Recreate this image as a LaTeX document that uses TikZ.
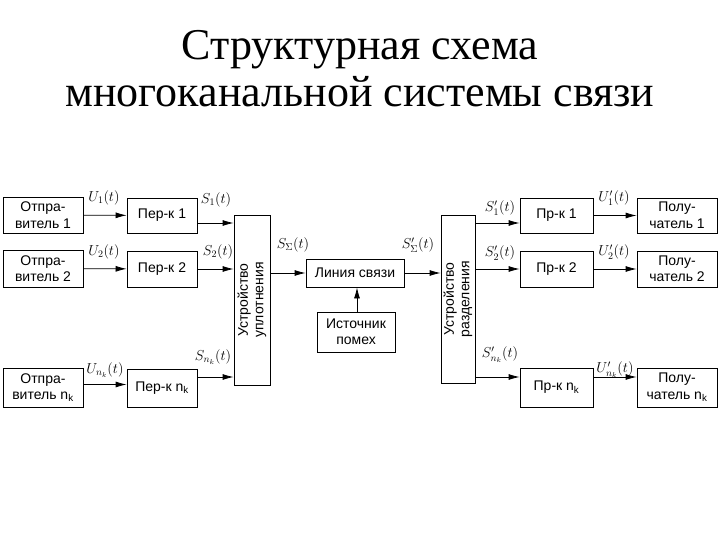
\documentclass[tikz,border=0pt]{standalone}
\usepackage{fontspec}
\setmainfont{Liberation Sans}
\newfontfamily\titlefont{Liberation Serif}
\usetikzlibrary{arrows.meta}
\begin{document}
\begin{tikzpicture}[x=1pt,y=-1pt,
 box/.style={draw, line width=0.8pt, inner sep=0pt, align=center, font=\fontsize{14}{16.5}\selectfont},
 vtext/.style={rotate=90, align=center, inner sep=0pt, font=\fontsize{14}{15.5}\selectfont},
 arr/.style={-{Latex[length=11pt,width=6pt]}, line width=0.8pt},
 lbl/.style={font=\fontsize{14.5}{16}\selectfont, inner sep=0pt},
 ttl/.style={font=\titlefont\fontsize{44}{48}\selectfont, inner sep=0pt, anchor=base}]
\useasboundingbox (0,0) rectangle (720,540);
% title
\node[ttl] (t1) at (360,60) {Структурная схема};
\node[ttl] (t2) at (360,107) {многоканальной системы связи};
% senders
\node[box, minimum width=80pt, minimum height=36pt] (o1) at (43,215) {Отпра-\\витель 1};
\node[box, minimum width=80pt, minimum height=37pt] (o2) at (43,268.5) {Отпра-\\витель 2};
\node[box, minimum width=80pt, minimum height=39pt] (o3) at (43,387.5) {Отпра-\\витель n\textsubscript{k}};
% transmitters
\node[box, minimum width=70pt, minimum height=35pt] (p1) at (162,215.5) {Пер-к 1};
\node[box, minimum width=70pt, minimum height=36pt] (p2) at (162,269) {Пер-к 2};
\node[box, minimum width=70pt, minimum height=38pt] (p3) at (162,388) {Пер-к n\textsubscript{k}};
% multiplexer
\node[box, minimum width=36pt, minimum height=170pt] (u) at (252,300) {};
\node[vtext] (ut) at (u.center) {Устройство\\уплотнения};
% line
\node[box, minimum width=98pt, minimum height=28pt] (ln) at (355,273) {Линия связи};
\node[box, minimum width=78pt, minimum height=40pt] (is) at (356,332) {Источник\\помех};
% demultiplexer
\node[box, minimum width=34pt, minimum height=168pt] (r) at (458,299) {};
\node[vtext] (rt) at (r.center) {Устройство\\разделения};
% receivers
\node[box, minimum width=73pt, minimum height=35pt] (q1) at (556.5,215.5) {Пр-к 1};
\node[box, minimum width=73pt, minimum height=36pt] (q2) at (556.5,269) {Пр-к 2};
\node[box, minimum width=73pt, minimum height=39pt] (q3) at (556.5,387.5) {Пр-к n\textsubscript{k}};
% recipients
\node[box, minimum width=80pt, minimum height=35pt] (g1) at (677,215.5) {Полу-\\чатель 1};
\node[box, minimum width=80pt, minimum height=36pt] (g2) at (677,269) {Полу-\\чатель 2};
\node[box, minimum width=80pt, minimum height=39pt] (g3) at (677,387.5) {Полу-\\чатель n\textsubscript{k}};
% connectors
\draw[arr] (o1) -- (p1);
\draw[arr] (o2) -- (p2);
\draw[arr] ([yshift=3pt]o3.east) -- ([yshift=3pt]o3.east -| p3.west);
\draw[arr] ([yshift=-7.5pt]p1.east) -- ([yshift=-7.5pt]p1.east -| u.west);
\draw[arr] (p2.east) -- (p2.east -| u.west);
\draw[arr] ([yshift=11pt]p3.east) -- ([yshift=11pt]p3.east -| u.west);
\draw[arr] (ln.west -| u.east) -- (ln.west);
\draw[arr] (ln.east) -- (ln.east -| r.west);
\draw[arr] (is.north -| 357,0) -- (ln.south -| 357,0);
\draw[arr] ([yshift=-7.5pt]q1.west -| r.east) -- ([yshift=-7.5pt]q1.west);
\draw[arr] (q2.west -| r.east) -- (q2.west);
\draw[arr] ([yshift=10.5pt]q3.west -| r.east) -- ([yshift=10.5pt]q3.west);
\draw[arr] (q1) -- (g1);
\draw[arr] (q2) -- (g2);
\draw[arr] ([yshift=10.5pt]q3.east) -- ([yshift=10.5pt]q3.east -| g3.west);
% labels
\node[lbl] (lu1) at (104,198) {$U_1(t)$};
\node[lbl] (lu2) at (104,252) {$U_2(t)$};
\node[lbl] (lu3) at (105,370) {$U_{n_k}(t)$};
\node[lbl] (ls1) at (216,200) {$S_1(t)$};
\node[lbl] (ls2) at (218,252) {$S_2(t)$};
\node[lbl] (ls3) at (213,357) {$S_{n_k}(t)$};
\node[lbl] (lss) at (293,245) {$S_\Sigma(t)$};
\node[lbl] (lsp) at (418,245) {$S'_\Sigma(t)$};
\node[lbl] (lr1) at (500,208) {$S'_1(t)$};
\node[lbl] (lr2) at (500,253) {$S'_2(t)$};
\node[lbl] (lr3) at (500,355) {$S'_{n_k}(t)$};
\node[lbl] (lv1) at (614,198) {$U'_1(t)$};
\node[lbl] (lv2) at (614,252) {$U'_2(t)$};
\node[lbl] (lv3) at (615,370) {$U'_{n_k}(t)$};
\end{tikzpicture}
\end{document}
